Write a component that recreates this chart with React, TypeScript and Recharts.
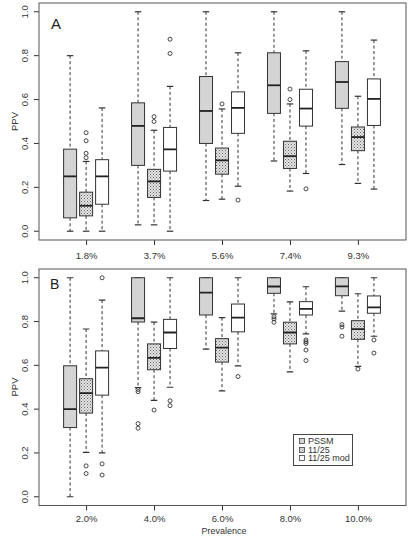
import React from "react";
import { ComposedChart, Bar, XAxis, YAxis, Legend } from "recharts";

// prevalence groups
const groupsA = ["1.8%", "3.7%", "5.6%", "7.4%", "9.3%"];
const groupsB = ["2.0%", "4.0%", "6.0%", "8.0%", "10.0%"];
const yTicks = [0, 0.2, 0.4, 0.6, 0.8, 1.0];
const seriesNames = ["PSSM", "11/25", "11/25 mod"];

// box stats: [min, q1, median, q3, max]
const pssmA = [
  [0.0, 0.061, 0.25, 0.374, 0.8],
  [0.029, 0.3, 0.48, 0.585, 1.0],
  [0.14, 0.4, 0.548, 0.705, 1.0],
  [0.32, 0.537, 0.665, 0.813, 1.0],
  [0.304, 0.56, 0.68, 0.773, 1.0],
];
const pssmOutA = [[], [], [], [], []];
const clsA = [
  [0.0, 0.07, 0.116, 0.178, 0.318],
  [0.029, 0.154, 0.227, 0.282, 0.46],
  [0.146, 0.26, 0.323, 0.379, 0.557],
  [0.183, 0.286, 0.342, 0.41, 0.58],
  [0.218, 0.367, 0.429, 0.475, 0.615],
];
const clsOutA = [[0.335, 0.355, 0.412, 0.449], [0.5, 0.522], [0.58], [0.6, 0.648], []];
const modA = [
  [0.0, 0.123, 0.25, 0.326, 0.562],
  [0.0, 0.274, 0.373, 0.473, 0.66],
  [0.205, 0.446, 0.562, 0.635, 0.813],
  [0.263, 0.479, 0.559, 0.647, 0.822],
  [0.192, 0.482, 0.603, 0.694, 0.871],
];
const modOutA = [[], [0.81, 0.875], [0.142], [0.193], []];

const pssmB = [
  [0.0, 0.316, 0.4, 0.598, 1.0],
  [0.498, 0.798, 0.815, 1.0, 1.0],
  [0.674, 0.83, 0.932, 1.0, 1.0],
  [0.835, 0.929, 0.96, 1.0, 1.0],
  [0.848, 0.918, 0.961, 1.0, 1.0],
];
const pssmOutB = [[], [0.49, 0.48, 0.334, 0.313], [], [0.822, 0.812, 0.797], [0.786, 0.775, 0.733]];
const clsB = [
  [0.203, 0.382, 0.473, 0.539, 0.766],
  [0.44, 0.58, 0.634, 0.698, 0.797],
  [0.483, 0.615, 0.681, 0.722, 0.818],
  [0.57, 0.698, 0.75, 0.797, 0.89],
  [0.595, 0.719, 0.765, 0.804, 0.927],
];
const clsOutB = [[0.141, 0.106], [0.396], [], [], [0.583]];
const modB = [
  [0.2, 0.464, 0.59, 0.666, 0.898],
  [0.5, 0.677, 0.75, 0.81, 1.0],
  [0.598, 0.753, 0.818, 0.88, 1.0],
  [0.744, 0.83, 0.858, 0.891, 0.959],
  [0.733, 0.838, 0.865, 0.917, 1.0],
];
const modOutB = [[1.0, 0.15, 0.099], [0.438, 0.416], [0.549], [0.716, 0.708, 0.7, 0.67, 0.622], [0.716, 0.656]];

const FONT = "'Liberation Sans', Arial, Helvetica, sans-serif";
const INK = "#333";

function buildRows(groups, pssm, pssmOut, cls, clsOut, mod, modOut) {
  return groups.map((g, i) => ({
    group: g,
    pssm: pssm[i],
    pssmOut: pssmOut[i],
    cls: cls[i],
    clsOut: clsOut[i],
    mod: mod[i],
    modOut: modOut[i],
  }));
}

const rowsA = buildRows(groupsA, pssmA, pssmOutA, clsA, clsOutA, modA, modOutA);
const rowsB = buildRows(groupsB, pssmB, pssmOutB, clsB, clsOutB, modB, modOutB);

// draws whiskers, box, median and outliers from the q1..q3 bar rectangle
function BoxShape(props: any) {
  const { x, y, width, height, payload, statKey, fill } = props;
  const [lo, q1, med, q3, hi] = payload[statKey];
  const out: number[] = payload[statKey + "Out"];
  const top = Math.min(y, y + height);
  const h = Math.abs(height);
  const ppu = h / (q3 - q1);
  const py = (v: number) => top + (q3 - v) * ppu;
  const cx = x + width / 2;
  const cap = width / 4;
  return (
    <g>
      <line x1={cx} x2={cx} y1={py(hi)} y2={top} stroke={INK} strokeDasharray="3 2.5" />
      <line x1={cx} x2={cx} y1={top + h} y2={py(lo)} stroke={INK} strokeDasharray="3 2.5" />
      <line x1={cx - cap} x2={cx + cap} y1={py(hi)} y2={py(hi)} stroke={INK} strokeWidth={1.2} />
      <line x1={cx - cap} x2={cx + cap} y1={py(lo)} y2={py(lo)} stroke={INK} strokeWidth={1.2} />
      <rect x={x} y={top} width={width} height={h} fill={fill} stroke={INK} strokeWidth={1} />
      <line x1={x} x2={x + width} y1={py(med)} y2={py(med)} stroke="#222" strokeWidth={1.8} />
      {out.map((v, i) => (
        <circle key={i} cx={cx} cy={py(v)} r={2} fill="none" stroke={INK} strokeWidth={0.9} />
      ))}
    </g>
  );
}

function YTick({ x, y, payload }: any) {
  const tx = x - 3.5;
  return (
    <text x={tx} y={y} transform={`rotate(-90 ${tx} ${y})`} textAnchor="middle" fontSize={9.5} fontFamily={FONT} fill={INK}>
      {Number(payload.value).toFixed(1)}
    </text>
  );
}

function XTick({ x, y, payload, dy }: any) {
  return (
    <text x={x} y={y + dy} textAnchor="middle" fontSize={9.5} fontFamily={FONT} fill={INK}>
      {payload.value}
    </text>
  );
}

function LegendBox({ payload }: any) {
  const items = [...(payload || [])].sort(
    (a: any, b: any) => seriesNames.indexOf(a.value) - seriesNames.indexOf(b.value)
  );
  return (
    <div
      style={{
        border: "1px solid #444",
        background: "#fff",
        padding: "2px 3px 2px 5px",
        fontFamily: FONT,
        fontSize: 9,
        lineHeight: "8.6px",
        color: INK,
        boxSizing: "border-box",
        width: 60,
        whiteSpace: "nowrap",
      }}
    >
      {items.map((e: any) => (
        <div key={e.value} style={{ display: "flex", alignItems: "center" }}>
          <svg width={6} height={6} style={{ marginRight: 3, flex: "none" }}>
            <rect x={0.5} y={0.5} width={5} height={5} fill={e.color} stroke="#444" strokeWidth={0.8} />
          </svg>
          <span>{e.value}</span>
        </div>
      ))}
    </div>
  );
}

function Panel({ rows, height, axisHeight, labelDy, legend }: any) {
  return (
    <ComposedChart
      width={414}
      height={height}
      data={rows}
      margin={{ top: 3, right: 8, bottom: 0, left: 15 }}
      barSize={13}
      barGap={3}
    >
      <XAxis
        dataKey="group"
        interval={0}
        height={axisHeight}
        axisLine={false}
        tickSize={5}
        tickLine={{ stroke: INK }}
        tick={<XTick dy={labelDy} />}
        padding={{ left: 13.6, right: 13.6 }}
      />
      <YAxis
        type="number"
        domain={[-0.04, 1.04]}
        ticks={yTicks}
        allowDataOverflow
        width={24}
        axisLine={false}
        tickSize={5}
        tickLine={{ stroke: INK }}
        tick={<YTick />}
      />
      <Bar name="PSSM" dataKey={(d: any) => [d.pssm[1], d.pssm[3]]} fill="#d4d4d4" isAnimationActive={false}
        shape={(p: any) => <BoxShape {...p} statKey="pssm" fill="#d4d4d4" />} />
      <Bar name="11/25" dataKey={(d: any) => [d.cls[1], d.cls[3]]} fill="url(#stipple)" isAnimationActive={false}
        shape={(p: any) => <BoxShape {...p} statKey="cls" fill="url(#stipple)" />} />
      <Bar name="11/25 mod" dataKey={(d: any) => [d.mod[1], d.mod[3]]} fill="#ffffff" isAnimationActive={false}
        shape={(p: any) => <BoxShape {...p} statKey="mod" fill="#ffffff" />} />
      {legend && (
        <Legend
          layout="horizontal"
          verticalAlign="middle"
          align="center"
          content={<LegendBox />}
          wrapperStyle={{ position: "absolute", left: 293, top: 168, width: 60, height: 30 }}
        />
      )}
    </ComposedChart>
  );
}

export default function App() {
  return (
    <div style={{ position: "absolute", left: 0, top: 0, width: 414, height: 539, background: "#fff" }}>
      <svg width={0} height={0} style={{ position: "absolute" }}>
        <defs>
          <pattern id="stipple" patternUnits="userSpaceOnUse" width={3} height={3}>
            <rect width={3} height={3} fill="#e2e2e2" />
            <rect x={0} y={0} width={1} height={1} fill="#6a6a6a" />
            <rect x={1.5} y={1.5} width={1} height={1} fill="#8a8a8a" />
          </pattern>
        </defs>
      </svg>
      <div style={{ position: "absolute", left: 0, top: 0 }}>
        <Panel rows={rowsA} height={270} axisHeight={30} labelDy={11.5} legend={false} />
      </div>
      <div style={{ position: "absolute", left: 0, top: 266 }}>
        <Panel rows={rowsB} height={273} axisHeight={33.5} labelDy={9.5} legend={true} />
      </div>
      <svg width={414} height={539} style={{ position: "absolute", left: 0, top: 0, pointerEvents: "none" }}>
        <rect x={39} y={3} width={367} height={237} fill="none" stroke="#555" strokeWidth={1} />
        <rect x={39} y={269} width={367} height={236.5} fill="none" stroke="#555" strokeWidth={1} />
        <text x={51} y={29} fontSize={15} fontFamily={FONT} fill="#222">A</text>
        <text x={50} y={288.5} fontSize={14} fontFamily={FONT} fill="#222">B</text>
        <text x={17.5} y={121.5} transform="rotate(-90 17.5 121.5)" textAnchor="middle" fontSize={9.5} fontFamily={FONT} fill={INK}>PPV</text>
        <text x={17.5} y={387} transform="rotate(-90 17.5 387)" textAnchor="middle" fontSize={9.5} fontFamily={FONT} fill={INK}>PPV</text>
        <text x={224} y={533.5} textAnchor="middle" fontSize={9} fontFamily={FONT} fill={INK}>Prevalence</text>
      </svg>
    </div>
  );
}
